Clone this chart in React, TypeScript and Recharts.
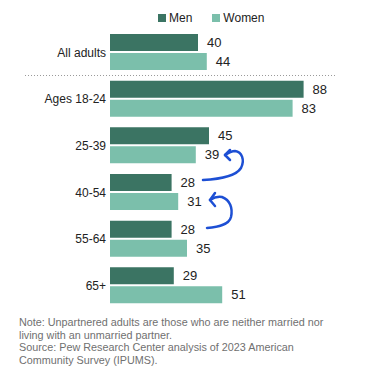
import { BarChart, Bar, XAxis, YAxis, LabelList } from 'recharts'

const groups = ['All adults', 'Ages 18-24', '25-39', '40-54', '55-64', '65+']
const men = [40, 88, 45, 28, 28, 29]
const women = [44, 83, 39, 31, 35, 51]

const colors = {
  men: '#3b7463',
  women: '#7bbfab',
  text: '#222222',
  note: '#707070',
  arrow: '#1d4fd4',
}

const data = groups.map((group, i) => ({ group, men: men[i], women: women[i] }))

const font = '"Liberation Sans", Arial, sans-serif'

export default function App() {
  return (
    <div
      style={{
        position: 'absolute',
        left: 0,
        top: 0,
        width: 375,
        height: 366,
        background: '#fff',
        fontFamily: font,
        overflow: 'hidden',
      }}
    >
      {/* legend */}
      <div style={{ position: 'absolute', top: 11, left: 158, display: 'flex', alignItems: 'center', fontSize: 12, color: colors.text }}>
        <span style={{ width: 8, height: 8, background: colors.men, display: 'inline-block', marginRight: 3 }} />
        <span style={{ marginRight: 20 }}>Men</span>
        <span style={{ width: 8, height: 8, background: colors.women, display: 'inline-block', marginRight: 3 }} />
        <span>Women</span>
      </div>

      <BarChart
        width={375}
        height={312}
        data={data}
        layout="vertical"
        margin={{ top: 29, right: 45, bottom: 3, left: 0 }}
        barCategoryGap={5}
        barGap={2}
      >
        <XAxis type="number" domain={[0, 100]} hide />
        <YAxis
          type="category"
          dataKey="group"
          width={110}
          axisLine={false}
          tickLine={false}
          tickSize={0}
          tickMargin={4}
          tick={{ fontSize: 12, fill: colors.text, fontFamily: font }}
        />
        <Bar dataKey="men" fill={colors.men} barSize={17} isAnimationActive={false}>
          <LabelList dataKey="men" position="right" offset={9} fill={colors.text} fontSize={13} fontFamily={font} />
        </Bar>
        <Bar dataKey="women" fill={colors.women} barSize={17} isAnimationActive={false}>
          <LabelList dataKey="women" position="right" offset={9} fill={colors.text} fontSize={13} fontFamily={font} />
        </Bar>
      </BarChart>

      {/* separator and hand-drawn arrows */}
      <svg width={375} height={366} style={{ position: 'absolute', left: 0, top: 0, pointerEvents: 'none' }}>
        <line x1={25} x2={336} y1={75.5} y2={75.5} stroke="#9a9a9a" strokeWidth={1} strokeDasharray="1 2" />
        <g fill="none" stroke={colors.arrow} strokeWidth={2.5} strokeLinecap="round" strokeLinejoin="round">
          <path d="M203,180 C222,179 236,176 241,168 C245,160 242,152 235,151 C231,151 228,153 225,155" />
          <path d="M225,155 L230,150 M225,155 L230,160" />
          <path d="M207,228 C218,227 229,225 231,217 C233,208 230,200 222,197 C217,196 213,198 210,200" />
          <path d="M210,200 L215,193 M210,200 L215,206" />
        </g>
      </svg>

      {/* note */}
      <div
        style={{
          position: 'absolute',
          left: 19,
          top: 316,
          fontSize: 10.8,
          lineHeight: '12.6px',
          color: colors.note,
          whiteSpace: 'nowrap',
        }}
      >
        Note: Unpartnered adults are those who are neither married nor
        <br />
        living with an unmarried partner.
        <br />
        Source: Pew Research Center analysis of 2023 American
        <br />
        Community Survey (IPUMS).
      </div>
    </div>
  )
}
